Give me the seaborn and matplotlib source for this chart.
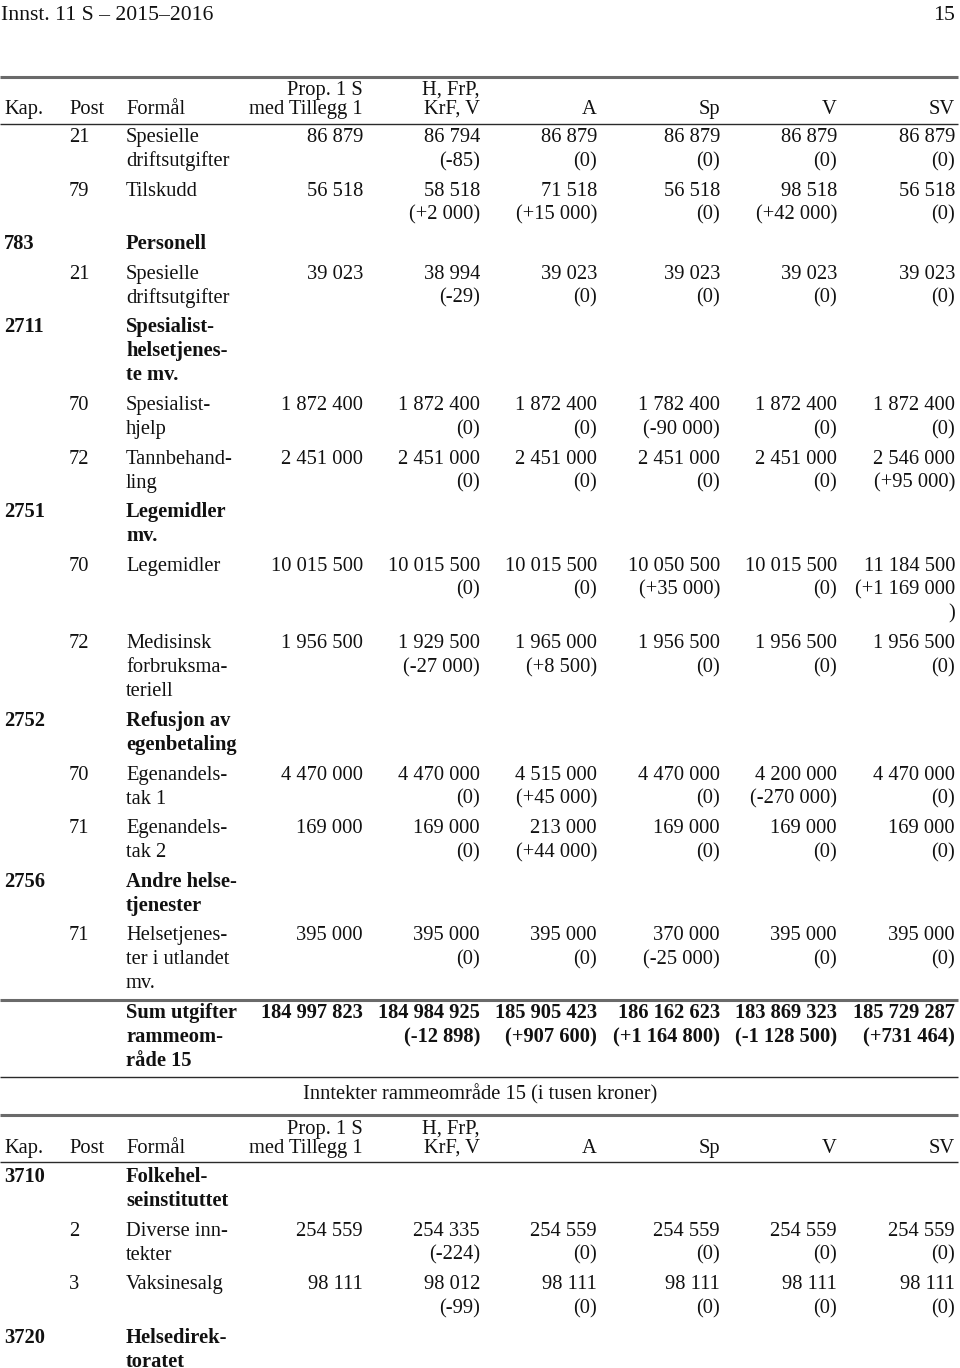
import matplotlib
matplotlib.use("Agg")
import matplotlib.pyplot as plt
import seaborn as sns

# ---------------- data ----------------
columns = ["Prop. 1 S\nmed Tillegg 1", "H, FrP,\nKrF, V", "A", "Sp", "V", "SV"]

exp_kap = ["", "", "783", "", "2711", "", "", "2751", "", "", "2752", "", "", "2756", ""]
exp_post = ["21", "79", "", "21", "", "70", "72", "", "70", "72", "", "70", "71", "", "71"]
exp_formal = ["Spesielle\ndriftsutgifter", "Tilskudd", "Personell", "Spesielle\ndriftsutgifter",
              "Spesialist-\nhelsetjenes-\nte mv.", "Spesialist-\nhjelp", "Tannbehand-\nling",
              "Legemidler\nmv.", "Legemidler", "Medisinsk\nforbruksma-\nteriell",
              "Refusjon av\negenbetaling", "Egenandels-\ntak 1", "Egenandels-\ntak 2",
              "Andre helse-\ntjenester", "Helsetjenes-\nter i utlandet\nmv."]

exp_prop = [86879, 56518, None, 39023, None, 1872400, 2451000, None, 10015500, 1956500, None, 4470000, 169000, None, 395000]
exp_h = [86794, 58518, None, 38994, None, 1872400, 2451000, None, 10015500, 1929500, None, 4470000, 169000, None, 395000]
exp_a = [86879, 71518, None, 39023, None, 1872400, 2451000, None, 10015500, 1965000, None, 4515000, 213000, None, 395000]
exp_sp = [86879, 56518, None, 39023, None, 1782400, 2451000, None, 10050500, 1956500, None, 4470000, 169000, None, 370000]
exp_v = [86879, 98518, None, 39023, None, 1872400, 2451000, None, 10015500, 1956500, None, 4200000, 169000, None, 395000]
exp_sv = [86879, 56518, None, 39023, None, 1872400, 2546000, None, 11184500, 1956500, None, 4470000, 169000, None, 395000]

exp_h_chg = [-85, 2000, None, -29, None, 0, 0, None, 0, -27000, None, 0, 0, None, 0]
exp_a_chg = [0, 15000, None, 0, None, 0, 0, None, 0, 8500, None, 45000, 44000, None, 0]
exp_sp_chg = [0, 0, None, 0, None, -90000, 0, None, 35000, 0, None, 0, 0, None, -25000]
exp_v_chg = [0, 42000, None, 0, None, 0, 0, None, 0, 0, None, -270000, 0, None, 0]
exp_sv_chg = [0, 0, None, 0, None, 0, 95000, None, 1169000, 0, None, 0, 0, None, 0]

sum_label = "Sum utgifter\nrammeom-\nråde 15"
sum_vals = [184997823, 184984925, 185905423, 186162623, 183869323, 185729287]
sum_chg = [None, -12898, 907600, 1164800, -1128500, 731464]

income_title = "Inntekter rammeområde 15 (i tusen kroner)"
inc_kap = ["3710", "", "", "3720"]
inc_post = ["", "2", "3", ""]
inc_formal = ["Folkehel-\nseinstituttet", "Diverse inn-\ntekter", "Vaksinesalg", "Helsedirek-\ntoratet"]
inc_prop = [None, 254559, 98111, None]
inc_h = [None, 254335, 98012, None]
inc_a = [None, 254559, 98111, None]
inc_sp = [None, 254559, 98111, None]
inc_v = [None, 254559, 98111, None]
inc_sv = [None, 254559, 98111, None]
inc_h_chg = [None, -224, -99, None]
inc_a_chg = [None, 0, 0, None]
inc_sp_chg = [None, 0, 0, None]
inc_v_chg = [None, 0, 0, None]
inc_sv_chg = [None, 0, 0, None]

page_left = "Innst. 11 S – 2015–2016"
page_right = "15"

# ---------------- style ----------------
sns.set_theme(style="white")
plt.rcParams["font.family"] = ["Liberation Serif", "DejaVu Serif"]
FS = 14.8
INK = "#111111"
LINE_H = 24.0
GAP = 5.6
BASE = 7.0  # baseline offset from slot centre

X_KAP, X_POST, X_FORM = 4, 69, 126
X_COLS = [363, 480, 597, 720, 837, 955]


def fmt(v):
    return f"{abs(v):,}".replace(",", " ") if v >= 0 else "-" + f"{abs(v):,}".replace(",", " ")


def fmt_chg(c):
    if c == 0:
        return "(0)"
    return "(+" + fmt(c) + ")" if c > 0 else "(" + fmt(c) + ")"


fig = plt.figure(figsize=(9.6, 13.68), dpi=100)
ax = fig.add_axes([0, 0, 1, 1])
ax.set_xlim(0, 960)
ax.set_ylim(1368, 0)
ax.axis("off")


def txt(x, yc, s, ha="left", bold=False, **kw):
    ax.text(x, yc + BASE, s, ha=ha, va="baseline", fontsize=FS, color=INK,
            fontweight="bold" if bold else "normal", **kw)


def thick(y):
    ax.hlines(y, 0, 958, color="#6a6a6a", lw=2.2)


def thin(y):
    ax.hlines(y, 0, 958, color="#2a2a2a", lw=1.0)


def header(y1, y2):
    txt(X_KAP, y2, "Kap.")
    txt(X_POST, y2, "Post")
    txt(X_FORM, y2, "Formål")
    for x, name in zip(X_COLS, columns):
        parts = name.split("\n")
        if len(parts) == 2:
            txt(x, y1, parts[0], ha="right")
            txt(x, y2, parts[1], ha="right")
        else:
            txt(x, y2, parts[0], ha="right")


def cell_lines(val, chg):
    lines = []
    if val is not None:
        lines.append(fmt(val))
    if chg is not None:
        s = fmt_chg(chg)
        if len(s) > 11:  # too wide for the column: closing bracket wraps
            lines += [s[:-1], s[-1]]
        else:
            lines.append(s)
    return lines


def draw_rows(y, kaps, posts, formals, vals, chgs):
    for i in range(len(kaps)):
        is_head = kaps[i] != ""
        flines = formals[i].split("\n")
        cells = []
        for c in range(6):
            chg = None if c == 0 else chgs[c - 1][i]
            cells.append(cell_lines(vals[c][i], chg))
        n = max([len(flines)] + [len(cl) for cl in cells])
        if is_head:
            txt(X_KAP, y, kaps[i], bold=True)
        if posts[i]:
            txt(X_POST, y, posts[i])
        for k, fl in enumerate(flines):
            txt(X_FORM, y + k * LINE_H, fl, bold=is_head)
        for c, cl in enumerate(cells):
            for k, s in enumerate(cl):
                txt(X_COLS[c], y + k * LINE_H, s, ha="right")
        y += n * LINE_H + GAP
    return y


# page header
ax.text(1, 20, page_left, fontsize=15.6, color=INK, va="baseline")
ax.text(955, 20, page_right, fontsize=15.6, color=INK, va="baseline", ha="right")

# expenses table
thick(77)
header(88, 107)
thin(124)
draw_rows(135, exp_kap, exp_post, exp_formal,
          [exp_prop, exp_h, exp_a, exp_sp, exp_v, exp_sv],
          [exp_h_chg, exp_a_chg, exp_sp_chg, exp_v_chg, exp_sv_chg])

# sum
thick(1000)
for k, s in enumerate(sum_label.split("\n")):
    txt(X_FORM, 1011 + k * LINE_H, s, bold=True)
for c in range(6):
    txt(X_COLS[c], 1011, fmt(sum_vals[c]), ha="right", bold=True)
    if sum_chg[c] is not None:
        txt(X_COLS[c], 1035, fmt_chg(sum_chg[c]), ha="right", bold=True)
thin(1077)

# income title and table
txt(480, 1092, income_title, ha="center")
thick(1115)
header(1127, 1146)
thin(1162)
draw_rows(1175, inc_kap, inc_post, inc_formal,
          [inc_prop, inc_h, inc_a, inc_sp, inc_v, inc_sv],
          [inc_h_chg, inc_a_chg, inc_sp_chg, inc_v_chg, inc_sv_chg])

fig.savefig("out.png", dpi=100, facecolor="white")
